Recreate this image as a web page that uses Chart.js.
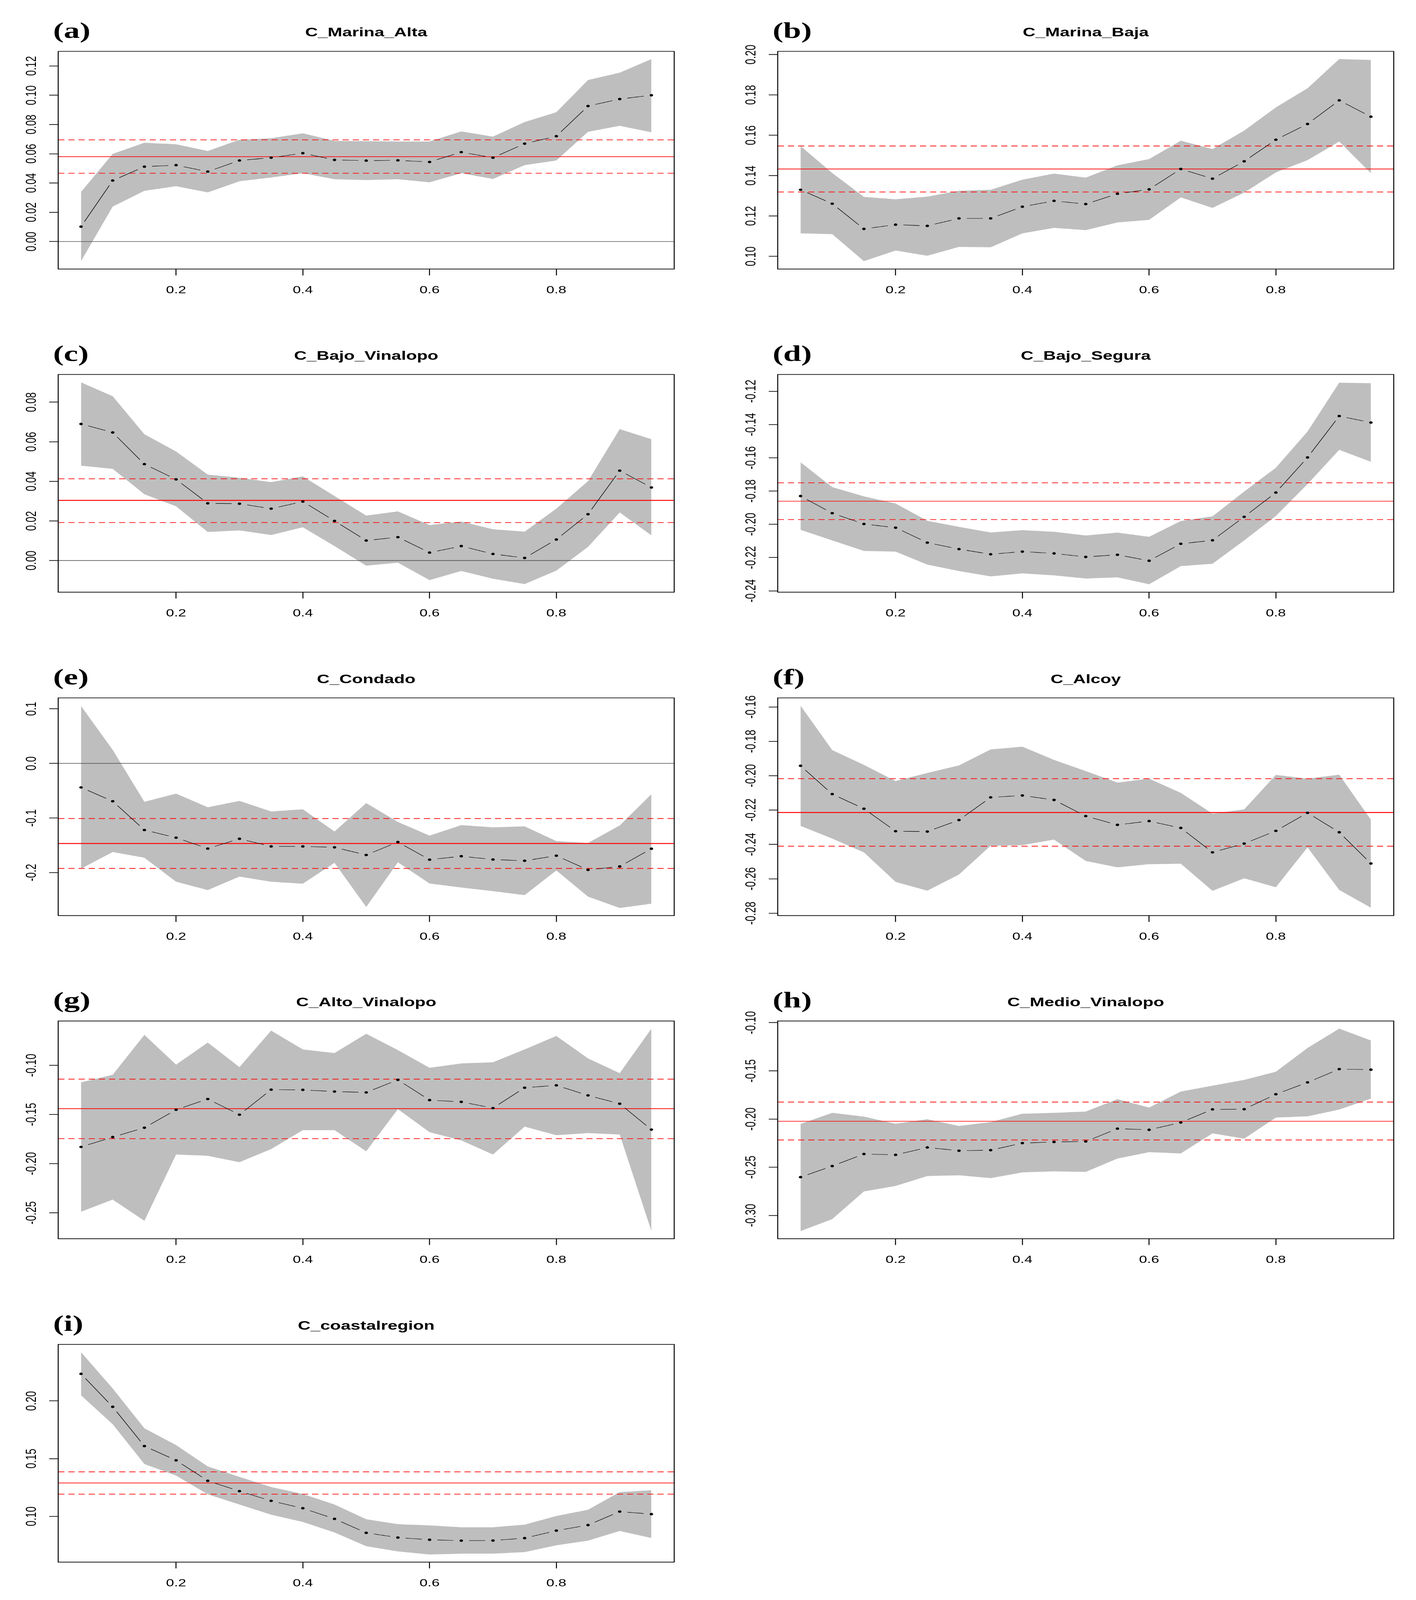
<!DOCTYPE html>
<html>
<head>
<meta charset="utf-8">
<script src="https://cdn.jsdelivr.net/npm/chart.js@4.4.1/dist/chart.umd.min.js"></script>
<style>
    html, body { margin: 0; padding: 0; background: #fff; overflow: hidden; }
    #page { position: relative; width: 3625px; height: 5828px; overflow: hidden; background: #fff; transform-origin: 0 0; }
    canvas { position: absolute; }
    .title { position: absolute; text-align: center; font: bold 45px "Liberation Sans", Arial, sans-serif; line-height: 45px; color: #000; white-space: nowrap; }
    .letter { position: absolute; font: bold 82px "Liberation Serif", "Times New Roman", serif; line-height: 82px; color: #000; }
</style>
</head>
<body>
<div id="page"></div>
<script>
// quantile levels on the x axis (shared by all panels)
const QUANTILES = [0.05, 0.10, 0.15, 0.20, 0.25, 0.30, 0.35, 0.40, 0.45, 0.50, 0.55, 0.60, 0.65, 0.70, 0.75, 0.80, 0.85, 0.90, 0.95];
const X_TICKS = [0.2, 0.4, 0.6, 0.8];
const X_TICK_LABELS = ["0.2", "0.4", "0.6", "0.8"];
const X_MIN = 0.014;
const X_MAX = 0.986;

// (a) C_Marina_Alta
const MARINA_ALTA_EST = [0.0102, 0.0417, 0.0512, 0.0522, 0.0478, 0.0554, 0.0573, 0.0604, 0.0558, 0.0553, 0.0555, 0.0544, 0.0611, 0.0573, 0.0669, 0.0720, 0.0926, 0.0974, 0.1000];
const MARINA_ALTA_UP = [0.0339, 0.0599, 0.0675, 0.0665, 0.0619, 0.0696, 0.0706, 0.0740, 0.0688, 0.0686, 0.0684, 0.0684, 0.0753, 0.0717, 0.0817, 0.0884, 0.1104, 0.1154, 0.1247];
const MARINA_ALTA_LOW = [-0.0134, 0.0239, 0.0347, 0.0378, 0.0336, 0.0412, 0.0438, 0.0467, 0.0426, 0.0420, 0.0426, 0.0405, 0.0467, 0.0428, 0.0522, 0.0554, 0.0750, 0.0791, 0.0747];
const MARINA_ALTA_OLS = [0.0580, 0.0467, 0.0695];
const MARINA_ALTA_YTICKS = [0.00, 0.02, 0.04, 0.06, 0.08, 0.10, 0.12];
const MARINA_ALTA_YLABELS = ["0.00", "0.02", "0.04", "0.06", "0.08", "0.10", "0.12"];

// (b) C_Marina_Baja
const MARINA_BAJA_EST = [0.1330, 0.1261, 0.1136, 0.1157, 0.1151, 0.1188, 0.1188, 0.1246, 0.1275, 0.1259, 0.1310, 0.1332, 0.1433, 0.1385, 0.1471, 0.1578, 0.1656, 0.1773, 0.1692];
const MARINA_BAJA_UP = [0.1547, 0.1413, 0.1295, 0.1283, 0.1296, 0.1325, 0.1330, 0.1380, 0.1410, 0.1390, 0.1451, 0.1482, 0.1573, 0.1532, 0.1623, 0.1738, 0.1833, 0.1978, 0.1973];
const MARINA_BAJA_LOW = [0.1114, 0.1110, 0.0976, 0.1029, 0.1003, 0.1047, 0.1045, 0.1114, 0.1141, 0.1130, 0.1168, 0.1181, 0.1292, 0.1240, 0.1316, 0.1416, 0.1477, 0.1569, 0.1412];
const MARINA_BAJA_OLS = [0.1433, 0.1319, 0.1547];
const MARINA_BAJA_YTICKS = [0.10, 0.12, 0.14, 0.16, 0.18, 0.20];
const MARINA_BAJA_YLABELS = ["0.10", "0.12", "0.14", "0.16", "0.18", "0.20"];

// (c) C_Bajo_Vinalopo
const BAJO_VINALOPO_EST = [0.0690, 0.0647, 0.0487, 0.0410, 0.0289, 0.0287, 0.0262, 0.0298, 0.0200, 0.0101, 0.0118, 0.0040, 0.0073, 0.0033, 0.0013, 0.0106, 0.0234, 0.0454, 0.0369];
const BAJO_VINALOPO_UP = [0.0900, 0.0830, 0.0638, 0.0551, 0.0434, 0.0418, 0.0396, 0.0425, 0.0326, 0.0227, 0.0248, 0.0179, 0.0197, 0.0158, 0.0146, 0.0262, 0.0401, 0.0664, 0.0613];
const BAJO_VINALOPO_LOW = [0.0479, 0.0463, 0.0335, 0.0274, 0.0144, 0.0152, 0.0129, 0.0168, 0.0073, -0.0026, -0.0011, -0.0099, -0.0053, -0.0092, -0.0119, -0.0051, 0.0069, 0.0243, 0.0127];
const BAJO_VINALOPO_OLS = [0.0304, 0.0192, 0.0413];
const BAJO_VINALOPO_YTICKS = [0.00, 0.02, 0.04, 0.06, 0.08];
const BAJO_VINALOPO_YLABELS = ["0.00", "0.02", "0.04", "0.06", "0.08"];

// (d) C_Bajo_Segura
const BAJO_SEGURA_EST = [-0.1830, -0.1933, -0.1998, -0.2020, -0.2110, -0.2149, -0.2180, -0.2164, -0.2175, -0.2196, -0.2183, -0.2219, -0.2117, -0.2096, -0.1955, -0.1809, -0.1598, -0.1349, -0.1388];
const BAJO_SEGURA_UP = [-0.1627, -0.1776, -0.1832, -0.1875, -0.1979, -0.2015, -0.2049, -0.2035, -0.2045, -0.2067, -0.2050, -0.2075, -0.1980, -0.1952, -0.1803, -0.1660, -0.1442, -0.1148, -0.1152];
const BAJO_SEGURA_LOW = [-0.2033, -0.2097, -0.2160, -0.2164, -0.2242, -0.2281, -0.2313, -0.2295, -0.2307, -0.2326, -0.2319, -0.2360, -0.2251, -0.2237, -0.2097, -0.1950, -0.1758, -0.1552, -0.1624];
const BAJO_SEGURA_OLS = [-0.1861, -0.1972, -0.1750];
const BAJO_SEGURA_YTICKS = [-0.24, -0.22, -0.20, -0.18, -0.16, -0.14, -0.12];
const BAJO_SEGURA_YLABELS = ["-0.24", "-0.22", "-0.20", "-0.18", "-0.16", "-0.14", "-0.12"];

// (e) C_Condado
const CONDADO_EST = [-0.0440, -0.0693, -0.1220, -0.1360, -0.1560, -0.1380, -0.1520, -0.1520, -0.1537, -0.1677, -0.1440, -0.1763, -0.1700, -0.1760, -0.1783, -0.1690, -0.1950, -0.1887, -0.1563];
const CONDADO_UP = [0.1053, 0.0247, -0.0703, -0.0553, -0.0803, -0.0687, -0.0880, -0.0840, -0.1247, -0.0727, -0.1073, -0.1323, -0.1130, -0.1170, -0.1153, -0.1423, -0.1457, -0.1137, -0.0563];
const CONDADO_LOW = [-0.1927, -0.1623, -0.1727, -0.2167, -0.2320, -0.2073, -0.2167, -0.2203, -0.1820, -0.2630, -0.1810, -0.2200, -0.2273, -0.2340, -0.2413, -0.1960, -0.2440, -0.2647, -0.2570];
const CONDADO_OLS = [-0.1467, -0.1923, -0.1010];
const CONDADO_YTICKS = [-0.2, -0.1, 0.0, 0.1];
const CONDADO_YLABELS = ["-0.2", "-0.1", "0.0", "0.1"];

// (f) C_Alcoy
const ALCOY_EST = [-0.1942, -0.2107, -0.2192, -0.2323, -0.2325, -0.2258, -0.2126, -0.2115, -0.2141, -0.2235, -0.2286, -0.2264, -0.2304, -0.2446, -0.2395, -0.2321, -0.2216, -0.2329, -0.2511];
const ALCOY_UP = [-0.1592, -0.1851, -0.1937, -0.2031, -0.1984, -0.1940, -0.1847, -0.1831, -0.1908, -0.1973, -0.2040, -0.2017, -0.2100, -0.2221, -0.2196, -0.1995, -0.2017, -0.1994, -0.2256];
const ALCOY_LOW = [-0.2292, -0.2366, -0.2446, -0.2618, -0.2669, -0.2575, -0.2407, -0.2404, -0.2372, -0.2496, -0.2533, -0.2515, -0.2512, -0.2670, -0.2597, -0.2649, -0.2417, -0.2665, -0.2768];
const ALCOY_OLS = [-0.2214, -0.2410, -0.2017];
const ALCOY_YTICKS = [-0.28, -0.26, -0.24, -0.22, -0.20, -0.18, -0.16];
const ALCOY_YLABELS = ["-0.28", "-0.26", "-0.24", "-0.22", "-0.20", "-0.18", "-0.16"];

// (g) C_Alto_Vinalopo
const ALTO_VINALOPO_EST = [-0.1830, -0.1730, -0.1635, -0.1452, -0.1343, -0.1502, -0.1248, -0.1250, -0.1267, -0.1276, -0.1148, -0.1354, -0.1372, -0.1435, -0.1228, -0.1204, -0.1306, -0.1391, -0.1654];
const ALTO_VINALOPO_UP = [-0.1174, -0.1096, -0.0691, -0.0994, -0.0769, -0.1019, -0.0648, -0.0839, -0.0876, -0.0680, -0.0846, -0.1026, -0.0981, -0.0969, -0.0839, -0.0702, -0.0930, -0.1080, -0.0628];
const ALTO_VINALOPO_LOW = [-0.2489, -0.2365, -0.2581, -0.1907, -0.1920, -0.1985, -0.1852, -0.1659, -0.1659, -0.1874, -0.1446, -0.1680, -0.1763, -0.1907, -0.1624, -0.1711, -0.1689, -0.1704, -0.2685];
const ALTO_VINALOPO_OLS = [-0.1441, -0.1746, -0.1141];
const ALTO_VINALOPO_YTICKS = [-0.25, -0.20, -0.15, -0.10];
const ALTO_VINALOPO_YLABELS = ["-0.25", "-0.20", "-0.15", "-0.10"];

// (h) C_Medio_Vinalopo
const MEDIO_VINALOPO_EST = [-0.2603, -0.2488, -0.2363, -0.2372, -0.2295, -0.2329, -0.2323, -0.2250, -0.2238, -0.2233, -0.2100, -0.2112, -0.2036, -0.1900, -0.1898, -0.1743, -0.1620, -0.1482, -0.1488];
const MEDIO_VINALOPO_UP = [-0.2051, -0.1936, -0.1975, -0.2049, -0.2002, -0.2072, -0.2032, -0.1945, -0.1936, -0.1922, -0.1794, -0.1881, -0.1715, -0.1654, -0.1594, -0.1509, -0.1263, -0.1062, -0.1185];
const MEDIO_VINALOPO_LOW = [-0.3163, -0.3038, -0.2751, -0.2694, -0.2592, -0.2584, -0.2613, -0.2554, -0.2543, -0.2548, -0.2410, -0.2344, -0.2357, -0.2149, -0.2204, -0.1985, -0.1972, -0.1902, -0.1788];
const MEDIO_VINALOPO_OLS = [-0.2023, -0.2217, -0.1824];
const MEDIO_VINALOPO_YTICKS = [-0.30, -0.25, -0.20, -0.15, -0.10];
const MEDIO_VINALOPO_YLABELS = ["-0.30", "-0.25", "-0.20", "-0.15", "-0.10"];

// (i) C_coastalregion
const COASTAL_EST = [0.2235, 0.1949, 0.1609, 0.1485, 0.1308, 0.1218, 0.1134, 0.1070, 0.0978, 0.0857, 0.0816, 0.0797, 0.0789, 0.0790, 0.0811, 0.0876, 0.0924, 0.1041, 0.1019];
const COASTAL_UP = [0.2423, 0.2108, 0.1763, 0.1617, 0.1432, 0.1342, 0.1254, 0.1194, 0.1102, 0.0975, 0.0932, 0.0921, 0.0905, 0.0905, 0.0928, 0.1003, 0.1057, 0.1210, 0.1226];
const COASTAL_LOW = [0.2049, 0.1798, 0.1453, 0.1353, 0.1191, 0.1102, 0.1014, 0.0951, 0.0860, 0.0741, 0.0696, 0.0669, 0.0676, 0.0676, 0.0690, 0.0749, 0.0789, 0.0873, 0.0812];
const COASTAL_OLS = [0.1289, 0.1192, 0.1385];
const COASTAL_YTICKS = [0.10, 0.15, 0.20];
const COASTAL_YLABELS = ["0.10", "0.15", "0.20"];

const PANELS = [
    { letter: "(a)", name: "C_Marina_Alta", est: MARINA_ALTA_EST, up: MARINA_ALTA_UP, low: MARINA_ALTA_LOW, ols: MARINA_ALTA_OLS, yTicks: MARINA_ALTA_YTICKS, yLabels: MARINA_ALTA_YLABELS, yMin: -0.0188, yMax: 0.1300, zero: true },
    { letter: "(b)", name: "C_Marina_Baja", est: MARINA_BAJA_EST, up: MARINA_BAJA_UP, low: MARINA_BAJA_LOW, ols: MARINA_BAJA_OLS, yTicks: MARINA_BAJA_YTICKS, yLabels: MARINA_BAJA_YLABELS, yMin: 0.0937, yMax: 0.2016 },
    { letter: "(c)", name: "C_Bajo_Vinalopo", est: BAJO_VINALOPO_EST, up: BAJO_VINALOPO_UP, low: BAJO_VINALOPO_LOW, ols: BAJO_VINALOPO_OLS, yTicks: BAJO_VINALOPO_YTICKS, yLabels: BAJO_VINALOPO_YLABELS, yMin: -0.0160, yMax: 0.0940, zero: true, thick: true },
    { letter: "(d)", name: "C_Bajo_Segura", est: BAJO_SEGURA_EST, up: BAJO_SEGURA_UP, low: BAJO_SEGURA_LOW, ols: BAJO_SEGURA_OLS, yTicks: BAJO_SEGURA_YTICKS, yLabels: BAJO_SEGURA_YLABELS, yMin: -0.2408, yMax: -0.1099 },
    { letter: "(e)", name: "C_Condado", est: CONDADO_EST, up: CONDADO_UP, low: CONDADO_LOW, ols: CONDADO_OLS, yTicks: CONDADO_YTICKS, yLabels: CONDADO_YLABELS, yMin: -0.2787, yMax: 0.1200, zero: true, thick: true },
    { letter: "(f)", name: "C_Alcoy", est: ALCOY_EST, up: ALCOY_UP, low: ALCOY_LOW, ols: ALCOY_OLS, yTicks: ALCOY_YTICKS, yLabels: ALCOY_YLABELS, yMin: -0.2814, yMax: -0.1547, thick: true },
    { letter: "(g)", name: "C_Alto_Vinalopo", est: ALTO_VINALOPO_EST, up: ALTO_VINALOPO_UP, low: ALTO_VINALOPO_LOW, ols: ALTO_VINALOPO_OLS, yTicks: ALTO_VINALOPO_YTICKS, yLabels: ALTO_VINALOPO_YLABELS, yMin: -0.2763, yMax: -0.0550 },
    { letter: "(h)", name: "C_Medio_Vinalopo", est: MEDIO_VINALOPO_EST, up: MEDIO_VINALOPO_UP, low: MEDIO_VINALOPO_LOW, ols: MEDIO_VINALOPO_OLS, yTicks: MEDIO_VINALOPO_YTICKS, yLabels: MEDIO_VINALOPO_YLABELS, yMin: -0.3242, yMax: -0.0983 },
    { letter: "(i)", name: "C_coastalregion", est: COASTAL_EST, up: COASTAL_UP, low: COASTAL_LOW, ols: COASTAL_OLS, yTicks: COASTAL_YTICKS, yLabels: COASTAL_YLABELS, yMin: 0.0603, yMax: 0.2490 }
];

// page layout (pixels, at the reference size 3625 x 5828)
const PAGE_W = 3625;
const PAGE_H = 5828;
const BOX_LEFT = [149, 1991];
const BOX_TOP = [187, 1364, 2542, 3719, 4897];
const BOX_W = 1577;
const BOX_H = 793;
const PAD_TOP = 130;
const PAD_RIGHT = 30;
const Y_AXIS_W = 149;
const X_AXIS_H = 120;
const TICK_LEN = 23;
const Y_LABEL_OFFSET = 67;   // label centre, left of the box
const POINT_GAP = 20;
const TICK_FONT = { family: "'Liberation Sans', Arial, sans-serif", size: 37 };

const measureCtx = document.createElement("canvas").getContext("2d");
measureCtx.font = "37px 'Liberation Sans', Arial, sans-serif";

function toPoints(values) {
    return values.map((y, k) => ({ x: QUANTILES[k], y: y }));
}

function hLine(value) {
    return [{ x: X_MIN, y: value }, { x: X_MAX, y: value }];
}

// R type="b": leave a gap round each point
function gapDash(ctx) {
    const len = Math.hypot(ctx.p1.x - ctx.p0.x, ctx.p1.y - ctx.p0.y);
    const jitter = ctx.p0DataIndex * 1e-4;
    if (len <= 2 * POINT_GAP) return [0, len + 10 + jitter];
    return [0, POINT_GAP, len - 2 * POINT_GAP + jitter, POINT_GAP + 1000];
}

const framePlugin = {
    id: "frame",
    afterDatasetsDraw(chart) {
        const { ctx, chartArea: a } = chart;
        ctx.save();
        ctx.strokeStyle = "#000";
        ctx.lineWidth = 2.5;
        ctx.strokeRect(a.left, a.top, a.right - a.left, a.bottom - a.top);
        ctx.restore();
    }
};

function addText(cls, text, left, top, width) {
    const div = document.createElement("div");
    div.className = cls;
    div.textContent = text;
    div.style.left = left + "px";
    div.style.top = top + "px";
    if (width) div.style.width = width + "px";
    document.getElementById("page").appendChild(div);
}

function makePanel(p, i) {
    const col = i % 2;
    const row = Math.floor(i / 2);
    const boxLeft = BOX_LEFT[col];
    const boxTop = BOX_TOP[row];

    const canvas = document.createElement("canvas");
    canvas.width = Y_AXIS_W + BOX_W + PAD_RIGHT;
    canvas.height = PAD_TOP + BOX_H + X_AXIS_H;
    canvas.style.width = canvas.width + "px";
    canvas.style.height = canvas.height + "px";
    canvas.style.left = (boxLeft - Y_AXIS_W) + "px";
    canvas.style.top = (boxTop - PAD_TOP) + "px";
    document.getElementById("page").appendChild(canvas);

    addText("title", p.name, boxLeft, boxTop - 92, BOX_W);
    addText("letter", p.letter, boxLeft - 13, boxTop - 117);

    // rotated y labels are centred on (box left - Y_LABEL_OFFSET)
    const widest = Math.max(...p.yLabels.map(t => measureCtx.measureText(t).width));
    const yPad = Math.max(0, Y_LABEL_OFFSET - TICK_LEN - widest / 2);

    const datasets = [
        {
            data: toPoints(p.est), borderColor: "#000", borderWidth: 1.6,
            pointRadius: 4.5, pointBackgroundColor: "#000", pointBorderWidth: 0,
            fill: false, segment: { borderDash: gapDash }
        },
        { data: hLine(p.ols[0]), borderColor: "#FF0000", borderWidth: p.thick ? 3.6 : 2.4, pointRadius: 0, fill: false },
        { data: hLine(p.ols[1]), borderColor: "#FF0000", borderWidth: 2.5, borderDash: [16, 10], pointRadius: 0, fill: false },
        { data: hLine(p.ols[2]), borderColor: "#FF0000", borderWidth: 2.5, borderDash: [16, 10], pointRadius: 0, fill: false }
    ];
    if (p.zero) {
        datasets.push({ data: hLine(0), borderColor: "#4D4D4D", borderWidth: 2.2, pointRadius: 0, fill: false });
    }
    datasets.push(
        { data: toPoints(p.up), borderColor: "rgba(0,0,0,0)", borderWidth: 0, pointRadius: 0, backgroundColor: "#BEBEBE", fill: "+1" },
        { data: toPoints(p.low), borderColor: "rgba(0,0,0,0)", borderWidth: 0, pointRadius: 0, fill: false }
    );

    new Chart(canvas, {
        type: "line",
        data: { datasets: datasets },
        options: {
            responsive: false,
            animation: false,
            devicePixelRatio: 1,
            events: [],
            layout: { padding: { top: PAD_TOP, right: PAD_RIGHT, bottom: 0, left: 0 } },
            elements: { line: { tension: 0 } },
            plugins: { legend: { display: false }, tooltip: { enabled: false } },
            scales: {
                x: {
                    type: "linear", min: X_MIN, max: X_MAX, bounds: "data",
                    border: { display: false },
                    grid: { drawOnChartArea: false, drawTicks: true, tickLength: TICK_LEN, tickWidth: 2.5, tickColor: "#000" },
                    ticks: {
                        font: TICK_FONT, color: "#000", padding: 33, autoSkip: false, maxRotation: 0, minRotation: 0,
                        callback: (v, k) => X_TICK_LABELS[k]
                    },
                    afterBuildTicks: s => { s.ticks = X_TICKS.map(v => ({ value: v })); },
                    afterFit: s => { s.height = X_AXIS_H; s.paddingLeft = 0; s.paddingRight = 0; }
                },
                y: {
                    type: "linear", min: p.yMin, max: p.yMax, bounds: "data",
                    border: { display: false },
                    grid: { drawOnChartArea: false, drawTicks: true, tickLength: TICK_LEN, tickWidth: 2.5, tickColor: "#000" },
                    ticks: {
                        font: TICK_FONT, color: "#000", padding: yPad, autoSkip: false,
                        minRotation: 90, maxRotation: 90, crossAlign: "center",
                        callback: (v, k) => p.yLabels[k]
                    },
                    afterBuildTicks: s => { s.ticks = p.yTicks.map(v => ({ value: v })); },
                    afterFit: s => { s.width = Y_AXIS_W; s.paddingTop = 0; s.paddingBottom = 0; }
                }
            }
        },
        plugins: [framePlugin]
    });
}

PANELS.forEach(makePanel);

// the browser window can come out shorter than the figure: fit the whole figure into it
const fitX = Math.min(1, window.innerWidth / PAGE_W);
const fitY = Math.min(1, window.innerHeight / PAGE_H);
if (fitX < 1 || fitY < 1) {
    document.getElementById("page").style.transform = "scale(" + fitX + "," + fitY + ")";
}
</script>
</body>
</html>
